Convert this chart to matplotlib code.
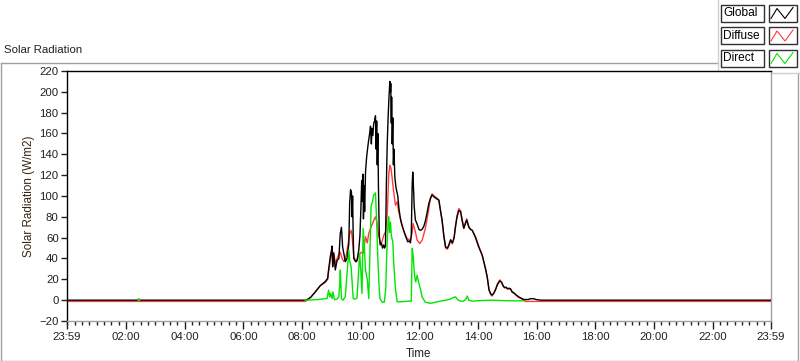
import numpy as np
import matplotlib.pyplot as plt
from matplotlib.patches import Rectangle
from matplotlib.ticker import FixedLocator

plt.rcParams['font.family'] = ['Liberation Sans', 'DejaVu Sans']

# time of day (hours) and radiation (W/m2)
global_t = [-0.02, 8.10, 8.17, 8.30, 8.45, 8.62, 8.79, 8.87, 8.90, 8.96, 9.00, 9.02, 9.04, 9.07,
            9.10, 9.13, 9.19, 9.25, 9.30, 9.34, 9.38, 9.42, 9.47, 9.53, 9.59, 9.62, 9.65, 9.68,
            9.70, 9.72, 9.74, 9.76, 9.82, 9.87, 9.93, 9.97, 10.00, 10.03, 10.05, 10.07, 10.09,
            10.11, 10.13, 10.16, 10.20, 10.25, 10.30, 10.33, 10.36, 10.38, 10.41, 10.44, 10.47,
            10.50, 10.52, 10.54, 10.56, 10.58, 10.60, 10.63, 10.66, 10.70, 10.74, 10.78, 10.81,
            10.84, 10.87, 10.90, 10.93, 10.96, 10.99, 11.01, 11.02, 11.04, 11.05, 11.07, 11.09,
            11.11, 11.13, 11.16, 11.20, 11.26, 11.30, 11.35, 11.40, 11.47, 11.52, 11.56, 11.60,
            11.65, 11.69, 11.72, 11.75, 11.77, 11.79, 11.82, 11.86, 11.92, 11.98, 12.03, 12.09,
            12.15, 12.20, 12.26, 12.32, 12.38, 12.43, 12.50, 12.60, 12.66, 12.72, 12.77, 12.83,
            12.89, 12.95, 13.00, 13.06, 13.12, 13.18, 13.23, 13.28, 13.34, 13.40, 13.45, 13.51,
            13.56, 13.61, 13.68, 13.74, 13.80, 13.91, 14.02, 14.14, 14.25, 14.31, 14.37, 14.43,
            14.48, 14.54, 14.59, 14.66, 14.74, 14.80, 14.85, 14.90, 14.95, 15.00, 15.05, 15.10,
            15.16, 15.22, 15.30, 15.39, 15.50, 15.56, 15.70, 15.80, 15.90, 16.00, 16.13, 23.99]
global_v = [0, 0, 0.5, 3, 8, 14, 18, 21, 29, 42, 48, 52, 32, 45,
            38, 29, 38, 40, 64, 70, 51, 45, 37, 40, 54, 93, 106, 104,
            80, 100, 62, 40, 37, 38, 48, 62, 86, 115, 95, 121, 78,
            110, 85, 123, 138, 150, 160, 167, 150, 165, 158, 170, 172,
            177, 145, 172, 130, 160, 110, 62, 53, 55, 50, 53, 50,
            52, 110, 150, 175, 195, 210, 200, 208, 170, 195, 150, 175,
            130, 145, 118, 108, 100, 88, 78, 72, 66, 62, 59, 56,
            57, 55, 62, 110, 123, 112, 90, 77, 73, 68, 67, 68,
            71, 76, 84, 93, 98, 101, 99, 97, 96, 85, 77, 62,
            51, 50, 53, 58, 55, 60, 71, 80, 86, 85, 77, 69,
            73, 77, 70, 68, 67, 60, 51, 43, 30, 22, 10, 6,
            5, 7, 10, 15, 18.6, 17, 14, 12, 12.5, 11, 11.5, 11,
            8, 7, 5, 3, 1.5, 0.6, 0.6, 1.5, 1.3, 0.5, 0, 0]

diffuse_t = [-0.02, 8.10, 8.17, 8.30, 8.45, 8.62, 8.79, 8.87, 8.90, 8.96, 9.00, 9.04, 9.08,
             9.13, 9.19, 9.25, 9.30, 9.36, 9.42, 9.48, 9.55, 9.62, 9.67, 9.70, 9.76, 9.85,
             9.93, 10.01, 10.08, 10.16, 10.22, 10.27, 10.35, 10.42, 10.46, 10.50, 10.55, 10.61,
             10.67, 10.72, 10.78, 10.84, 10.90, 10.95, 10.99, 11.03, 11.07, 11.12, 11.18, 11.24,
             11.29, 11.35, 11.41, 11.47, 11.58, 11.69, 11.75, 11.78, 11.86, 11.92, 12.01, 12.09,
             12.20, 12.32, 12.37, 12.43, 12.50, 12.60, 12.66, 12.72, 12.77, 12.83, 12.89, 12.95,
             13.00, 13.06, 13.12, 13.18, 13.23, 13.28, 13.34, 13.40, 13.45, 13.51, 13.56, 13.61,
             13.68, 13.74, 13.80, 13.91, 14.02, 14.14, 14.25, 14.31, 14.37, 14.43, 14.48, 14.54,
             14.59, 14.66, 14.74, 14.80, 14.85, 14.90, 14.95, 15.00, 15.05, 15.10, 15.16, 15.22,
             15.30, 15.39, 15.50, 15.56, 15.60, 23.99]
diffuse_v = [-1.2, -1.2, 0, 3, 8, 14, 17, 20, 27, 38, 44, 40, 46,
             35, 40, 44, 46, 40, 37, 40, 51, 64, 67, 62, 41.6, 36.8,
             43, 46, 45, 60.8, 55, 64, 70.4, 75, 78, 80, 75, 62,
             55, 56, 62, 65.6, 81.6, 120, 129.6, 126.4, 116.8, 104, 91.2, 94.4,
             84.8, 78.4, 72, 65.6, 59.2, 57.6, 65, 73.6, 65.6, 57.6, 54.4, 57.6,
             68.8, 88, 97.6, 102, 100, 98, 96, 86, 76, 61, 50, 49,
             52, 57, 54, 60, 72, 81, 88, 86, 78, 69, 74, 78,
             71, 68, 67, 61, 52, 43, 31, 22, 10, 5, 4, 7,
             10, 16, 19.5, 17, 13.5, 12, 12, 10.5, 11, 10.5, 7.5, 6.5,
             4.5, 2.5, 1, 0, -1.2, -1.2]

direct_t = [2.41, 2.43, 2.45, 2.46, 8.10, 8.50, 8.85, 8.90, 8.94, 8.97, 9.02, 9.05, 9.10,
            9.19, 9.25, 9.28, 9.30, 9.34, 9.39, 9.47, 9.53, 9.59, 9.62, 9.67, 9.70, 9.74,
            9.80, 9.87, 9.93, 9.96, 10.00, 10.04, 10.08, 10.12, 10.16, 10.22, 10.27, 10.31,
            10.35, 10.40, 10.44, 10.50, 10.54, 10.58, 10.62, 10.65, 10.73, 10.80, 10.85, 10.88,
            10.90, 10.93, 10.95, 10.98, 11.01, 11.04, 11.09, 11.12, 11.18, 11.24, 11.40, 11.60,
            11.72, 11.75, 11.78, 11.83, 11.87, 11.92, 11.97, 12.03, 12.09, 12.20, 12.37, 12.55,
            12.70, 12.90, 13.05, 13.15, 13.23, 13.30, 13.40, 13.50, 13.58, 13.63, 13.68, 13.80,
            14.00, 14.48, 15.00, 15.56]
direct_v = [0, 1.5, 0, np.nan, 0, 0.5, 1.6, 9.6, 3, 6.4, 1.6, 8, 0.5,
            1, 3.2, 15, 28.8, 1.6, 0, 3.2, 25.6, 48, 38, 32, 19, 1.6,
            1, 2, 30, 45, 28, 6.4, 69, 51, 29, 20, 1.6, 45,
            90, 95, 101, 103, 75, 40, 15, 1.6, -2, -2, 11, 40,
            56, 75, 80, 65, 75, 62, 56, 37, 11, -1.6, -1.5, -1,
            -1, 49.6, 44, 24, 17.6, 24, 17, 11, 3, -2, -3, -2,
            -1, 0, 1, 2.5, 3.2, 0.5, -1, -1, 1, 4, 0, -1,
            -0.5, 0, -0.6, -0.6]

series_names = ["Global", "Diffuse", "Direct"]
series_colors = ["#000000", "#ff3b3b", "#00e600"]

x_ticks = [-1 / 60] + list(range(2, 23, 2)) + [23 + 59 / 60]
x_labels = ["23:59", "02:00", "04:00", "06:00", "08:00", "10:00", "12:00",
            "14:00", "16:00", "18:00", "20:00", "22:00", "23:59"]
y_ticks = list(range(-20, 221, 20))

W, H = 800, 361
fig = plt.figure(figsize=(W / 100, H / 100), dpi=100)
fig.patch.set_facecolor("white")

# pixel overlay for the panel frame and the legend
ov = fig.add_axes([0, 0, 1, 1])
ov.set_xlim(0, W)
ov.set_ylim(H, 0)
ov.axis("off")
frame_col = "#a0a0a0"
ov.plot([0.5, 0.5, 797.5, 797.5], [62.5, 360.5, 360.5, 72.5], color=frame_col, lw=1)
ov.plot([0.5, 717.5], [62.5, 62.5], color=frame_col, lw=1)
ov.plot([717.5, 717.5, 800], [0, 72.5, 72.5], color="#d0d0d0", lw=1)
ov.text(4, 50, "Solar Radiation", fontsize=8.2, ha="left", va="center", color="#202020")

row_tops = [4.5, 27, 49.5]
for name, col, top in zip(series_names, series_colors, row_tops):
    ov.add_patch(Rectangle((720.5, top), 43, 17, facecolor="white", edgecolor="#303030", lw=1))
    ov.add_patch(Rectangle((768.5, top), 28, 17, facecolor="white", edgecolor="#303030", lw=1))
    ov.text(723, top + 8.8, name, fontsize=8.6, ha="left", va="center", color="black")
    zx = np.array([771, 777, 785, 793])
    zy = np.array([14, 4, 14, 3]) + top
    ov.plot(zx, zy, color=col, lw=0.8)

ax = fig.add_axes([67 / W, 1 - 321 / H, (771 - 67) / W, (321 - 71) / H])
ax.plot(diffuse_t, diffuse_v, color=series_colors[1], lw=1.0, zorder=2)
ax.plot(global_t, global_v, color=series_colors[0], lw=1.0, zorder=3)
ax.plot(direct_t, direct_v, color=series_colors[2], lw=1.0, zorder=4)

ax.set_xlim(-1 / 60, 23 + 59 / 60)
ax.set_ylim(-20, 220)
ax.set_xticks(x_ticks)
ax.set_xticklabels(x_labels)
ax.xaxis.set_minor_locator(FixedLocator(np.arange(0, 24, 0.25)))
ax.set_yticks(y_ticks)
ax.tick_params(axis="y", length=4, width=1, pad=2, labelsize=8.2, colors="#202020")
ax.tick_params(axis="x", which="major", length=5.5, width=1, pad=2.5, labelsize=8.2,
               colors="#202020")
ax.tick_params(axis="x", which="minor", length=3, width=1, color="#202020")

for side in ["left", "top"]:
    ax.spines[side].set_color("black")
for side in ["bottom", "right"]:
    ax.spines[side].set_color(frame_col)
for side in ax.spines:
    ax.spines[side].set_linewidth(1)

ax.set_xlabel("Time", fontsize=8.4, labelpad=4, color="#202020")
ax.set_ylabel("Solar Radiation (W/m2)", fontsize=8.4, labelpad=3, color="#3a2410")

fig.savefig("out.png", dpi=100)
